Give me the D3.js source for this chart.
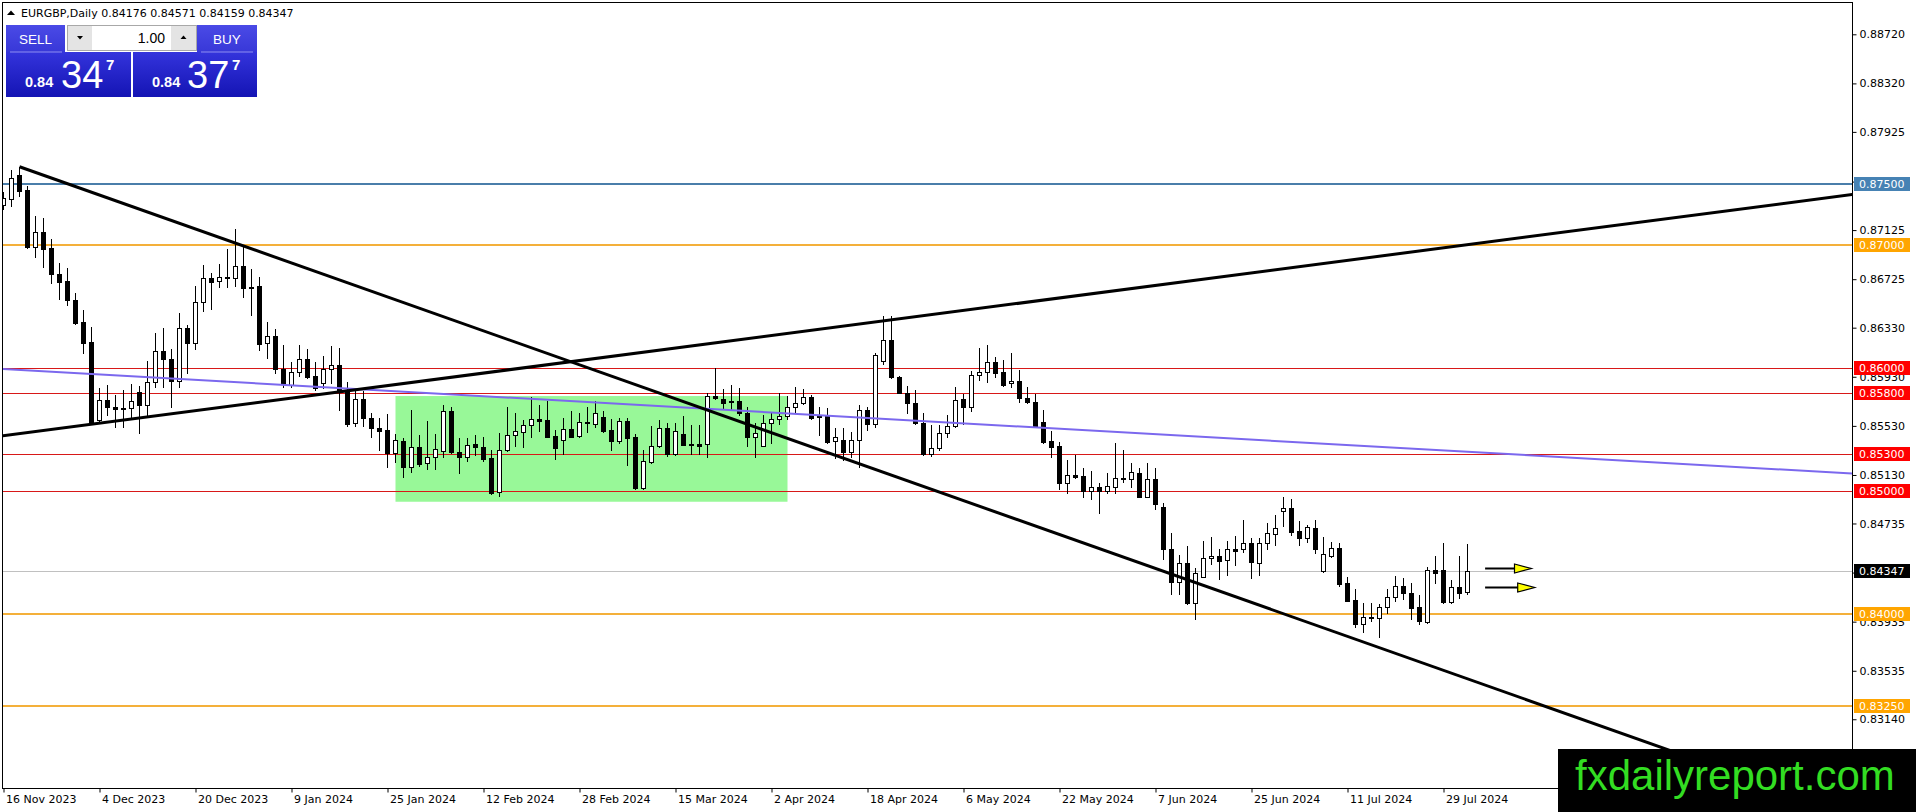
<!DOCTYPE html>
<html><head><meta charset="utf-8">
<script src="https://cdn.jsdelivr.net/npm/d3@7"></script>
<style>
html,body{margin:0;padding:0;background:#fff;overflow:hidden;}
svg{display:block;}
</style></head><body>
<svg id="chart" width="1916" height="812"></svg>
<script>
// ---------------- DATA ----------------
const openP = [0.87329,0.87375,0.87573,0.87451,0.86984,0.87112,0.86976,0.86764,0.86710,0.86555,
0.86373,0.86213,0.85577,0.85740,0.85681,0.85672,0.85672,0.85803,0.85700,0.85884,
0.86142,0.86072,0.85895,0.86324,0.86207,0.86541,0.86732,0.86712,0.86740,0.86732,
0.86832,0.86655,0.86669,0.86203,0.86262,0.85995,0.85863,0.85966,0.86072,0.85936,
0.85876,0.85995,0.86022,0.85808,0.85550,0.85746,0.85591,0.85510,0.85496,0.85306,
0.85409,0.85197,0.85355,0.85224,0.85273,0.85325,0.85653,0.85320,0.85273,0.85379,
0.85355,0.85265,0.84989,0.85332,0.85452,0.85477,0.85534,0.85583,0.85577,0.85447,
0.85414,0.85501,0.85444,0.85561,0.85542,0.85604,0.85496,0.85409,0.85569,0.85436,
0.85020,0.85238,0.85366,0.85509,0.85300,0.85463,0.85379,0.85379,0.85379,0.85773,
0.85746,0.85730,0.85732,0.85637,0.85442,0.85368,0.85550,0.85583,0.85610,0.85680,
0.85713,0.85768,0.85618,0.85618,0.85406,0.85414,0.85319,0.85414,0.85659,0.85545,
0.86061,0.86229,0.85925,0.85800,0.85713,0.85556,0.85301,0.85347,0.85469,0.85529,
0.85746,0.85686,0.85941,0.85966,0.86047,0.85971,0.85876,0.85892,0.85754,0.85727,
0.85564,0.85406,0.85366,0.85061,0.85129,0.85121,0.85001,0.85029,0.85001,0.85034,
0.85107,0.85094,0.85143,0.84953,0.85094,0.84867,0.84524,0.84260,0.84415,0.84089,
0.84301,0.84450,0.84469,0.84437,0.84524,0.84524,0.84578,0.84415,0.84578,0.84651,
0.84839,0.84858,0.84673,0.84613,0.84700,0.84350,0.84472,0.84532,0.84247,0.84111,
0.83916,0.83970,0.83962,0.84051,0.84138,0.84228,0.84165,0.84051,0.83935,0.84356,
0.84356,0.84092,0.84214,0.84176];
const highP = [0.87438,0.87614,0.87641,0.87484,0.87239,0.87220,0.87049,0.86859,0.86813,0.86609,
0.86474,0.86332,0.85835,0.85862,0.85781,0.85822,0.85871,0.85854,0.86061,0.86283,
0.86324,0.86153,0.86446,0.86351,0.86669,0.86840,0.86772,0.86846,0.86968,0.87131,
0.86984,0.86805,0.86740,0.86373,0.86316,0.86186,0.86053,0.86186,0.86153,0.86047,
0.86099,0.86180,0.86161,0.85890,0.85836,0.85817,0.85637,0.85591,0.85626,0.85464,
0.85428,0.85659,0.85455,0.85569,0.85464,0.85700,0.85686,0.85428,0.85428,0.85455,
0.85442,0.85333,0.85468,0.85680,0.85637,0.85577,0.85762,0.85699,0.85735,0.85496,
0.85591,0.85654,0.85637,0.85686,0.85735,0.85654,0.85583,0.85591,0.85591,0.85463,
0.85333,0.85528,0.85577,0.85556,0.85550,0.85610,0.85534,0.85537,0.85795,0.85998,
0.85827,0.85865,0.85835,0.85686,0.85550,0.85618,0.85645,0.85800,0.85773,0.85843,
0.85827,0.85781,0.85686,0.85672,0.85510,0.85515,0.85482,0.85699,0.85681,0.86120,
0.86425,0.86425,0.85936,0.85855,0.85822,0.85632,0.85537,0.85537,0.85618,0.85843,
0.85790,0.85979,0.86161,0.86188,0.86093,0.86066,0.86120,0.85985,0.85849,0.85790,
0.85659,0.85488,0.85401,0.85251,0.85292,0.85189,0.85162,0.85061,0.85148,0.85387,
0.85333,0.85224,0.85183,0.85224,0.85189,0.84899,0.84654,0.84478,0.84551,0.84369,
0.84592,0.84621,0.84524,0.84595,0.84632,0.84763,0.84619,0.84619,0.84741,0.84808,
0.84948,0.84931,0.84757,0.84722,0.84763,0.84627,0.84586,0.84578,0.84296,0.84198,
0.84089,0.84084,0.84078,0.84198,0.84307,0.84288,0.84247,0.84152,0.84383,0.84470,
0.84573,0.84274,0.84470,0.84571];
const lowP = [0.87294,0.87321,0.87402,0.86976,0.86903,0.86827,0.86696,0.86560,0.86512,0.86359,
0.86120,0.85545,0.85566,0.85618,0.85523,0.85523,0.85605,0.85469,0.85618,0.85849,
0.85849,0.85686,0.85849,0.85963,0.86156,0.86468,0.86484,0.86658,0.86658,0.86669,
0.86582,0.86433,0.86148,0.86080,0.85963,0.85849,0.85849,0.85936,0.85917,0.85822,
0.85836,0.85876,0.85659,0.85531,0.85526,0.85531,0.85442,0.85330,0.85192,0.85238,
0.85111,0.85157,0.85203,0.85176,0.85176,0.85273,0.85306,0.85143,0.85246,0.85292,
0.85246,0.84975,0.84959,0.85327,0.85366,0.85355,0.85436,0.85488,0.85436,0.85264,
0.85300,0.85436,0.85442,0.85482,0.85523,0.85482,0.85333,0.85393,0.85210,0.85015,
0.85015,0.85224,0.85360,0.85284,0.85295,0.85371,0.85297,0.85300,0.85278,0.85746,
0.85667,0.85667,0.85618,0.85366,0.85279,0.85366,0.85387,0.85545,0.85583,0.85645,
0.85708,0.85586,0.85455,0.85387,0.85265,0.85251,0.85273,0.85197,0.85496,0.85518,
0.86034,0.85917,0.85795,0.85632,0.85545,0.85295,0.85284,0.85333,0.85442,0.85518,
0.85545,0.85654,0.85903,0.85890,0.85925,0.85857,0.85849,0.85727,0.85719,0.85518,
0.85393,0.85279,0.85012,0.84980,0.85102,0.84953,0.84937,0.84817,0.84986,0.84986,
0.85075,0.85034,0.84948,0.84948,0.84850,0.84442,0.84160,0.84160,0.84079,0.83954,
0.84296,0.84407,0.84279,0.84315,0.84396,0.84502,0.84288,0.84315,0.84524,0.84559,
0.84714,0.84640,0.84559,0.84586,0.84491,0.84342,0.84464,0.84225,0.84100,0.83894,
0.83853,0.83943,0.83807,0.84002,0.84106,0.84117,0.83954,0.83916,0.83927,0.84247,
0.84087,0.84084,0.84125,0.84159];
const closeP = [0.87383,0.87546,0.87446,0.86984,0.87112,0.86968,0.86764,0.86704,0.86555,0.86370,
0.86207,0.85550,0.85740,0.85686,0.85664,0.85667,0.85732,0.85700,0.85884,0.86142,
0.86072,0.85895,0.86324,0.86207,0.86541,0.86732,0.86699,0.86740,0.86732,0.86832,
0.86650,0.86662,0.86197,0.86262,0.85995,0.85868,0.85966,0.86072,0.85930,0.85836,
0.85995,0.86022,0.85808,0.85545,0.85746,0.85591,0.85510,0.85490,0.85312,0.85415,
0.85192,0.85360,0.85219,0.85273,0.85344,0.85653,0.85320,0.85273,0.85374,0.85355,
0.85257,0.84980,0.85332,0.85452,0.85485,0.85534,0.85583,0.85569,0.85442,0.85352,
0.85501,0.85442,0.85558,0.85550,0.85632,0.85490,0.85409,0.85569,0.85433,0.85020,
0.85243,0.85366,0.85509,0.85300,0.85488,0.85376,0.85371,0.85368,0.85773,0.85754,
0.85714,0.85722,0.85632,0.85442,0.85469,0.85550,0.85586,0.85610,0.85680,0.85713,
0.85768,0.85594,0.85605,0.85401,0.85436,0.85319,0.85414,0.85659,0.85545,0.86107,
0.86229,0.85925,0.85800,0.85713,0.85550,0.85301,0.85347,0.85469,0.85529,0.85740,
0.85686,0.85944,0.85971,0.86052,0.85958,0.85863,0.85892,0.85754,0.85724,0.85529,
0.85401,0.85360,0.85061,0.85129,0.85110,0.85001,0.85029,0.85001,0.85039,0.85102,
0.85094,0.85151,0.84953,0.85094,0.84890,0.84524,0.84260,0.84415,0.84084,0.84328,
0.84450,0.84469,0.84431,0.84524,0.84513,0.84578,0.84420,0.84578,0.84654,0.84700,
0.84858,0.84668,0.84613,0.84703,0.84531,0.84486,0.84532,0.84241,0.84106,0.83916,
0.83975,0.83962,0.84051,0.84138,0.84228,0.84165,0.84043,0.83943,0.84356,0.84328,
0.84092,0.84214,0.84171,0.84347];

const dateTickIdx = [0,12,24,36,48,60,72,84,96,108,120,132,144,156,168,180];
const dateLabels = ["16 Nov 2023","4 Dec 2023","20 Dec 2023","9 Jan 2024","25 Jan 2024","12 Feb 2024",
  "28 Feb 2024","15 Mar 2024","2 Apr 2024","18 Apr 2024","6 May 2024","22 May 2024","7 Jun 2024",
  "25 Jun 2024","11 Jul 2024","29 Jul 2024"];
const priceTicks = [0.88720,0.88320,0.87925,0.87520,0.87125,0.86725,0.86330,0.85930,0.85530,
  0.85130,0.84735,0.84335,0.83935,0.83535,0.83140];

const blueLevels = [0.87500];
const orangeLevels = [0.87000,0.84000,0.83250];
const redLevels = [0.86000,0.85800,0.85300,0.85000];
const askPrice = 0.84377;
const lotSize = "1.00";

// drawn objects (bar index, price)
const descTrend = [[2,0.87641],[209,0.82870]];
const ascTrend = [[0,0.85450],[231,0.87414]];
const slopeLine = [[0,0.85993],[231,0.85142]];
const boxBars = [49,98];
const boxPrices = [0.85773,0.84912];
const arrowStart = [185.2,185.2];
const arrowEnd = [191.0,191.4];
const arrowPrice = [0.84372,0.84217];

// ---------------- SCALES ----------------
const UI = "DejaVu Sans", SANS = "Liberation Sans";
const svg = d3.select("#chart");
const frame = {x0:2.5, y0:2.5, x1:1852.5, y1:788.5};
const x = d3.scaleLinear().domain([0,230]).range([3.5,1843.5]);
const y = d3.scaleLinear().domain([0.8258,0.88975]).range([788,3]);
const ry = p => Math.round(y(p));

svg.append("rect").attr("width",1916).attr("height",812).attr("fill","#fff");
const defs = svg.append("defs");
defs.append("clipPath").attr("id","clip").append("rect")
  .attr("x",3).attr("y",3).attr("width",1849).attr("height",785);
const grad = defs.append("linearGradient").attr("id","blueg").attr("x1",0).attr("y1",0).attr("x2",0).attr("y2",1);
grad.append("stop").attr("offset","0%").attr("stop-color","#3434dc");
grad.append("stop").attr("offset","100%").attr("stop-color","#1414b4");
const grad2 = defs.append("linearGradient").attr("id","blueg2").attr("x1",0).attr("y1",0).attr("x2",0).attr("y2",1);
grad2.append("stop").attr("offset","0%").attr("stop-color","#4a4ae6");
grad2.append("stop").attr("offset","100%").attr("stop-color","#3838d8");

const plot = svg.append("g").attr("clip-path","url(#clip)");

// green rectangle
plot.append("rect")
  .attr("x",x(boxBars[0])).attr("width",x(boxBars[1])-x(boxBars[0]))
  .attr("y",y(boxPrices[0])).attr("height",y(boxPrices[1])-y(boxPrices[0]))
  .attr("fill","#98f898");

// horizontal levels
const lastClose = closeP[closeP.length-1];
plot.append("line").attr("x1",frame.x0).attr("x2",frame.x1)
  .attr("y1",ry(lastClose)+0.5).attr("y2",ry(lastClose)+0.5).attr("stroke","#c0c0c0").attr("stroke-width",1);
plot.selectAll("line.red").data(redLevels).join("line").attr("class","red")
  .attr("x1",frame.x0).attr("x2",frame.x1).attr("y1",d=>ry(d)+0.5).attr("y2",d=>ry(d)+0.5)
  .attr("stroke","#d81818").attr("stroke-width",1);
plot.selectAll("line.orange").data(orangeLevels).join("line").attr("class","orange")
  .attr("x1",frame.x0).attr("x2",frame.x1).attr("y1",d=>ry(d)).attr("y2",d=>ry(d))
  .attr("stroke","#f4b03a").attr("stroke-width",2);
plot.selectAll("line.blue").data(blueLevels).join("line").attr("class","blue")
  .attr("x1",frame.x0).attr("x2",frame.x1).attr("y1",d=>ry(d)).attr("y2",d=>ry(d))
  .attr("stroke","#4a7eaa").attr("stroke-width",2);

// candles
const bars = d3.range(openP.length).map(i=>({i,o:openP[i],h:highP[i],l:lowP[i],c:closeP[i]}));
plot.selectAll("line.wick").data(bars).join("line").attr("class","wick")
  .attr("x1",d=>x(d.i)).attr("x2",d=>x(d.i))
  .attr("y1",d=>ry(d.h)).attr("y2",d=>ry(d.l)+1)
  .attr("stroke","#000").attr("stroke-width",1);
plot.selectAll("rect.body").data(bars).join("rect").attr("class","body")
  .attr("x",d=>x(d.i)-2).attr("width",4)
  .attr("y",d=>ry(Math.max(d.o,d.c))+0.5)
  .attr("height",d=>Math.max(0,ry(Math.min(d.o,d.c))-ry(Math.max(d.o,d.c))))
  .attr("fill",d=>d.c>=d.o?"#fff":"#000")
  .attr("stroke","#000").attr("stroke-width",1);

// trend lines
function extend(pts, a, b){
  const s=(pts[1][1]-pts[0][1])/(pts[1][0]-pts[0][0]);
  return [[a,pts[0][1]+s*(a-pts[0][0])],[b,pts[0][1]+s*(b-pts[0][0])]];
}
const lineGen = d3.line().x(d=>x(d[0])).y(d=>y(d[1]));
plot.append("path").attr("d",lineGen(extend(slopeLine,-2,235)))
  .attr("fill","none").attr("stroke","#7b68ee").attr("stroke-width",2);
plot.append("path").attr("d",lineGen(extend(ascTrend,-2,235)))
  .attr("fill","none").attr("stroke","#000").attr("stroke-width",3);
plot.append("path").attr("d",lineGen(extend(descTrend,descTrend[0][0],235)))
  .attr("fill","none").attr("stroke","#000").attr("stroke-width",3);

// arrows
arrowPrice.forEach((p,k)=>{
  const xs=x(arrowStart[k]), xe=x(arrowEnd[k]), yy=ry(p)+0.5;
  plot.append("line").attr("x1",xs).attr("x2",xe-14).attr("y1",yy).attr("y2",yy)
    .attr("stroke","#000").attr("stroke-width",2);
  plot.append("path").attr("d",`M${xe-17},${yy-4.5}L${xe},${yy}L${xe-17},${yy+4.5}Z`)
    .attr("fill","#ffff00").attr("stroke","#000").attr("stroke-width",1.2);
});

// frame
svg.append("rect").attr("x",frame.x0).attr("y",frame.y0)
  .attr("width",frame.x1-frame.x0).attr("height",frame.y1-frame.y0)
  .attr("fill","none").attr("stroke","#000").attr("stroke-width",1);

// price axis
const yAxis = d3.axisRight(y).tickValues(priceTicks).tickFormat(d3.format(".5f")).tickSize(4).tickPadding(3);
const ya = svg.append("g").attr("transform",`translate(${frame.x1},0)`).call(yAxis);
ya.select(".domain").remove();
ya.selectAll("line").attr("stroke","#000");
ya.selectAll("text").style("font-family",UI).style("font-size","11px").attr("fill","#000");

// date axis
const xAxis = d3.axisBottom(x).tickValues(dateTickIdx).tickFormat((d,i)=>dateLabels[i]).tickSize(4).tickPadding(3);
const xa = svg.append("g").attr("transform",`translate(0,${frame.y1})`).call(xAxis);
xa.select(".domain").remove();
xa.selectAll("line").attr("stroke","#000");
xa.selectAll("text").style("font-family",UI).style("font-size","11px").attr("fill","#000")
  .attr("text-anchor","start").attr("dx",2);

// price level labels
const tags = [];
blueLevels.forEach(p=>tags.push({p,bg:"#4682b4"}));
orangeLevels.forEach(p=>tags.push({p,bg:"#ffa500"}));
redLevels.forEach(p=>tags.push({p,bg:"#ff0000"}));
tags.push({p:lastClose,bg:"#000000"});
const tg = svg.append("g").selectAll("g").data(tags).join("g")
  .attr("transform",d=>`translate(1854,${ry(d.p)})`);
tg.append("rect").attr("x",0).attr("y",-7).attr("width",56).attr("height",14).attr("fill",d=>d.bg);
tg.append("text").attr("x",5).attr("y",0).attr("dy","0.36em")
  .style("font-family",UI).style("font-size","11px")
  .attr("fill","#fff").text(d=>d3.format(".5f")(d.p));

// header
const last = bars[bars.length-1];
svg.append("path").attr("d","M7,15L11,10.5L15,15Z").attr("fill","#000");
svg.append("text").attr("x",21).attr("y",17).style("font-family",UI).style("font-size","11px").attr("fill","#000")
  .text(`EURGBP,Daily  ${[last.o,last.h,last.l,last.c].map(d3.format(".5f")).join(" ")}`);

// trading panel
const fmtP = v => { const s=d3.format(".5f")(v); return [s.slice(0,4), s.slice(4,6), s.slice(6)]; };
const sellParts = fmtP(lastClose), buyParts = fmtP(askPrice);
const panel = svg.append("g");
function ptext(xx,yy,size,txt,opt={}){
  const t = panel.append("text").attr("x",xx).attr("y",yy)
    .style("font-family",opt.font||SANS).style("font-size",size+"px")
    .style("font-weight",opt.bold?"bold":"normal")
    .attr("fill",opt.fill||"#fff").attr("text-anchor",opt.anchor||"start").text(txt);
  return t;
}
// SELL
panel.append("rect").attr("x",6).attr("y",25).attr("width",59).attr("height",27).attr("fill","url(#blueg2)");
panel.append("rect").attr("x",6).attr("y",52).attr("width",125).attr("height",45).attr("fill","url(#blueg)");
panel.append("line").attr("x1",10).attr("x2",62).attr("y1",52).attr("y2",52).attr("stroke","#8e8ef2").attr("stroke-width",1);
ptext(35.5,44,13.5,"SELL",{anchor:"middle"});
// BUY
panel.append("rect").attr("x",197).attr("y",25).attr("width",60).attr("height",27).attr("fill","url(#blueg2)");
panel.append("rect").attr("x",133).attr("y",52).attr("width",124).attr("height",45).attr("fill","url(#blueg)");
panel.append("line").attr("x1",201).attr("x2",253).attr("y1",52).attr("y2",52).attr("stroke","#8e8ef2").attr("stroke-width",1);
ptext(227,44,13.5,"BUY",{anchor:"middle"});
// lot box
panel.append("rect").attr("x",67.5).attr("y",25.5).attr("width",129).attr("height",25).attr("fill","#fff").attr("stroke","#a8a8a8");
panel.append("rect").attr("x",68).attr("y",26).attr("width",24).attr("height",24).attr("fill","#e4e4e4");
panel.append("rect").attr("x",171).attr("y",26).attr("width",25).attr("height",24).attr("fill","#e4e4e4");
panel.append("path").attr("d","M77,36L83,36L80,39.5Z").attr("fill","#000");
panel.append("path").attr("d","M180.5,39L186.5,39L183.5,35.5Z").attr("fill","#000");
ptext(165,43,14,lotSize,{anchor:"end",fill:"#000"});
// big prices
[[sellParts,25,61,106],[buyParts,152,187,232]].forEach(([pp,a,b,c])=>{
  ptext(a,87,14.5,pp[0],{bold:true});
  ptext(b,88,38,pp[1]);
  ptext(c,70,15,pp[2],{bold:true});
});

// watermark
svg.append("rect").attr("x",1558).attr("y",749).attr("width",358).attr("height",63).attr("fill","#000");
svg.append("text").attr("x",1575).attr("y",790).style("font-family",SANS).style("font-size","42px")
  .attr("fill","#33dd22").text("fxdailyreport.com");
</script>
</body></html>
